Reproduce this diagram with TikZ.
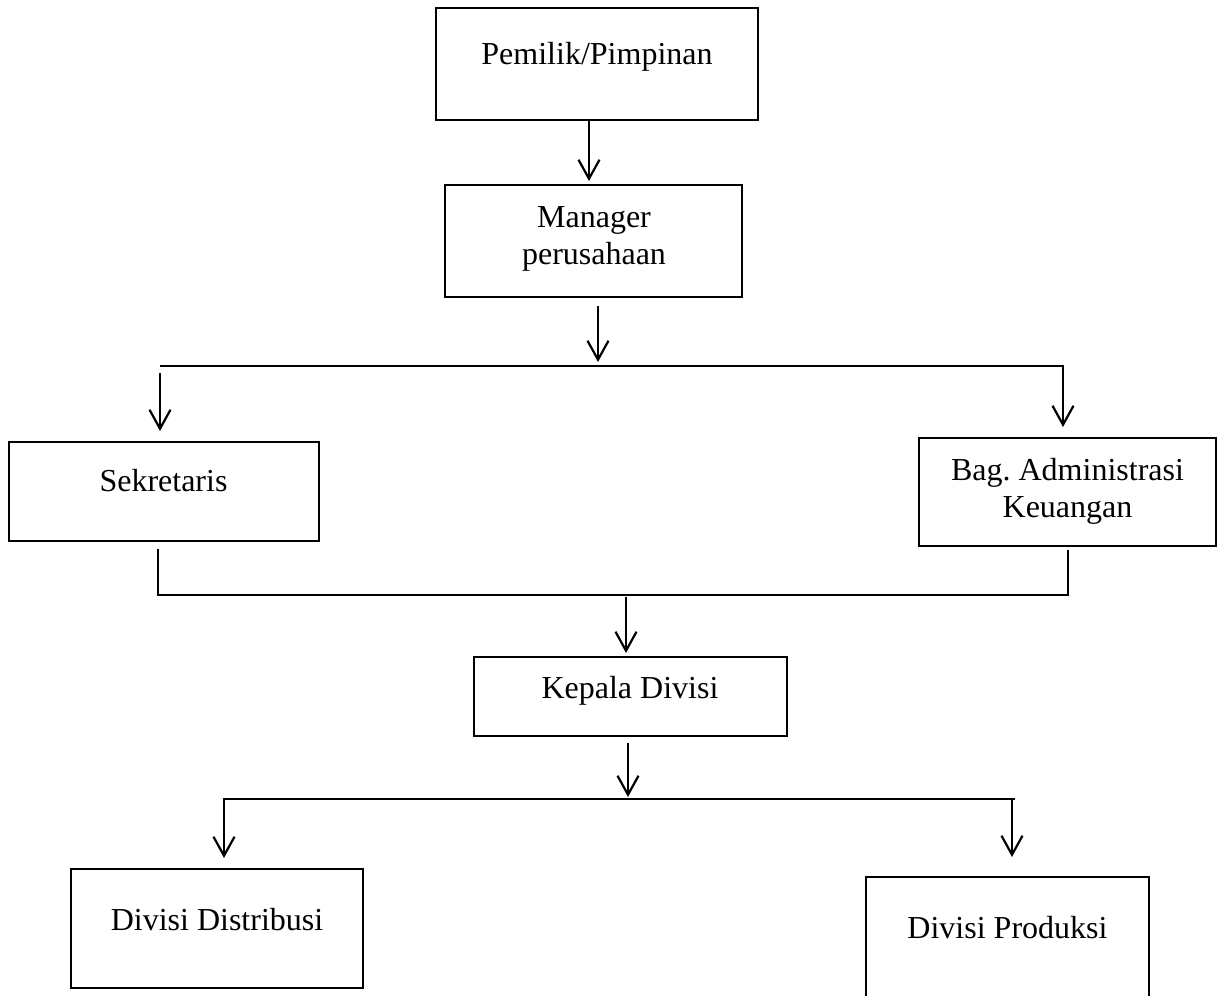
\documentclass[tikz,border=0pt]{standalone}
\usepackage{fontspec}
\setmainfont{Liberation Serif}
\usetikzlibrary{arrows.meta}
\begin{document}
\begin{tikzpicture}[x=0.5pt,y=-0.5pt,
  box/.style={draw,line width=1.4pt,inner sep=0pt},
  lbl/.style={font=\fontsize{16}{18.5}\selectfont,inner sep=0pt,anchor=base,align=center},
  conn/.style={line width=1.1pt},
  arr/.style={conn,-{Straight Barb[length=9.5pt,width=10.5pt,line width=1.1pt]}}]
\clip (0,0) rectangle (1223,996);
% boxes
\node[box,minimum width=161pt,minimum height=56pt] (pem) at (597,64) {};
\node[lbl] (tpem) at (597,64) {Pemilik/Pimpinan};
\node[box,minimum width=148.5pt,minimum height=56pt] (man) at (593.5,241) {};
\node[lbl] (tman) at (594,264) {Manager\\perusahaan};
\node[box,minimum width=155pt,minimum height=49.5pt] (sek) at (164,491.5) {};
\node[lbl] (tsek) at (163.5,491) {Sekretaris};
\node[box,minimum width=148.5pt,minimum height=54pt] (bag) at (1067.5,492) {};
\node[lbl] (tbag) at (1067.5,517) {Bag.\ Administrasi\\Keuangan};
\node[box,minimum width=156.5pt,minimum height=39.5pt] (kep) at (630.5,696.5) {};
\node[lbl] (tkep) at (630,698) {Kepala Divisi};
\node[box,minimum width=146pt,minimum height=59.5pt] (dis) at (217,928.5) {};
\node[lbl] (tdis) at (217,930) {Divisi Distribusi};
\node[box,minimum width=141.5pt,minimum height=71.5pt] (pro) at (1007.5,948.5) {};
\node[lbl] (tpro) at (1007.5,938) {Divisi Produksi};
% coordinates
\coordinate (c1) at (589,181);
\coordinate (m1) at (598,306);
\coordinate (m1t) at (598,362);
\coordinate (b1L) at (160,366);
\coordinate (b1R) at (1063,366);
\coordinate (s1) at (160,373);
\coordinate (s1t) at (160,431);
\coordinate (g1t) at (1063,427);
\coordinate (s2) at (158,549);
\coordinate (s2b) at (158,595);
\coordinate (g2b) at (1068,595);
\coordinate (g2) at (1068,550);
\coordinate (k1) at (626,597);
\coordinate (k1t) at (626,653);
\coordinate (k2) at (628,743);
\coordinate (k2t) at (628,797);
\coordinate (b3L) at (224,799);
\coordinate (b3R) at (1015,799);
\coordinate (d1t) at (224,858);
\coordinate (p1) at (1012,799);
\coordinate (p1t) at (1012,857);
% connectors
\draw[arr] (pem.south -| c1) -- (c1);
\draw[arr] (m1) -- (m1t);
\draw[arr] (b1L) -- (b1R) -- (g1t);
\draw[arr] (s1) -- (s1t);
\draw[conn] (s2) -- (s2b) -- (g2b) -- (g2);
\draw[arr] (k1) -- (k1t);
\draw[arr] (k2) -- (k2t);
\draw[arr] (b3R) -- (b3L) -- (d1t);
\draw[arr] (p1) -- (p1t);
\end{tikzpicture}
\end{document}
